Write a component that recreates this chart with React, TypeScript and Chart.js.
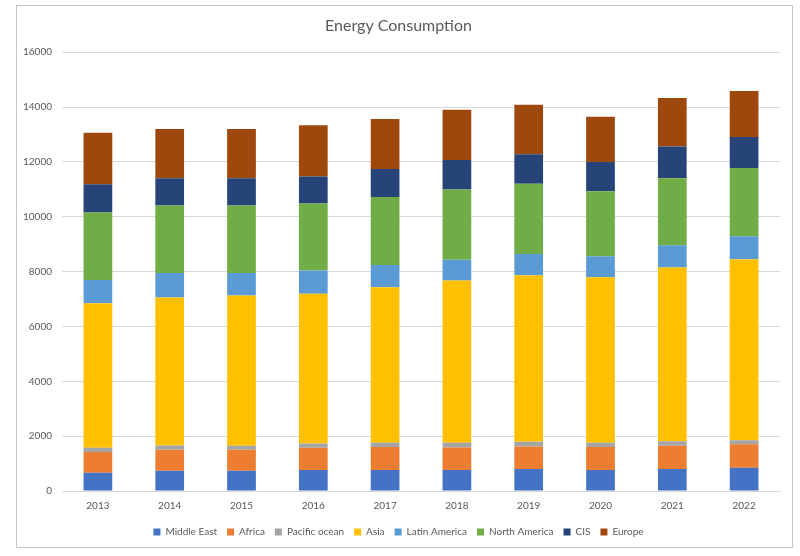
import React, { useEffect, useRef } from "react";
import { Chart, registerables } from "chart.js";

Chart.register(...registerables);

const years = ["2013", "2014", "2015", "2016", "2017", "2018", "2019", "2020", "2021", "2022"];
const middleEast = [665, 739, 739, 764, 764, 764, 800, 764, 800, 848];
const africa = [753, 764, 764, 812, 836, 824, 824, 836, 848, 861];
const pacificOcean = [157, 158, 145, 157, 158, 170, 170, 158, 170, 146];
const asia = [5272, 5394, 5479, 5455, 5672, 5915, 6073, 6036, 6327, 6592];
const latinAmerica = [851, 897, 825, 848, 814, 763, 775, 764, 813, 838];
const northAmerica = [2458, 2460, 2460, 2449, 2472, 2558, 2558, 2375, 2448, 2497];
const cis = [1033, 994, 994, 982, 1029, 1079, 1079, 1067, 1152, 1127];
const europe = [1876, 1794, 1794, 1866, 1820, 1830, 1806, 1648, 1769, 1673];

const seriesNames = ["Middle East", "Africa", "Pacific ocean", "Asia", "Latin America", "North America", "CIS", "Europe"];
const seriesData = [middleEast, africa, pacificOcean, asia, latinAmerica, northAmerica, cis, europe];
const seriesColors = ["#4472C4", "#ED7D31", "#A5A5A5", "#FFC000", "#5B9BD5", "#70AD47", "#264478", "#9E480E"];

const FONT = "Lato, 'Liberation Sans', sans-serif";

export default function App() {
  const ref = useRef<HTMLCanvasElement | null>(null);
  useEffect(() => {
    if (!ref.current) return;
    const chart = new Chart(ref.current, {
      type: "bar",
      data: {
        labels: years,
        datasets: seriesNames.map((name, i) => ({
          label: name,
          data: seriesData[i],
          backgroundColor: seriesColors[i],
          borderWidth: 0,
          categoryPercentage: 1,
          barPercentage: 0.4,
        })),
      },
      options: {
        responsive: false,
        animation: false,
        layout: { padding: { left: 0, right: 12, top: 0, bottom: 0 } },
        plugins: {
          title: {
            display: true,
            text: "Energy Consumption",
            color: "#595959",
            font: { family: FONT, size: 16, weight: "normal" },
            padding: { top: 10, bottom: 17 },
          },
          legend: {
            position: "bottom",
            labels: {
              color: "#595959",
              font: { family: FONT, size: 10 },
              boxWidth: 7,
              boxHeight: 7,
              padding: 10,
            },
          },
          tooltip: { enabled: false },
        },
        scales: {
          x: {
            stacked: true,
            grid: { display: false },
            border: { display: true, color: "#d9d9d9" },
            ticks: { color: "#595959", font: { family: FONT, size: 10 }, padding: 1 },
            afterFit: (scale: any) => {
              scale.height = 26;
            },
          },
          y: {
            stacked: true,
            min: 0,
            max: 16000,
            ticks: {
              stepSize: 2000,
              color: "#595959",
              font: { family: FONT, size: 10 },
              padding: 10,
              callback: (v: any) => String(v),
            },
            grid: { color: "#d9d9d9", drawTicks: false },
            border: { display: false },
            afterFit: (scale: any) => {
              scale.width = 45;
            },
          },
        },
      },
    });
    return () => chart.destroy();
  }, []);
  return (
    <div
      style={{
        position: "absolute",
        left: 16,
        top: 5,
        width: 777,
        height: 543,
        border: "1px solid #c6c6c6",
        boxSizing: "border-box",
        background: "#fff",
      }}
    >
      <canvas ref={ref} width={775} height={541} style={{ display: "block" }} />
    </div>
  );
}
